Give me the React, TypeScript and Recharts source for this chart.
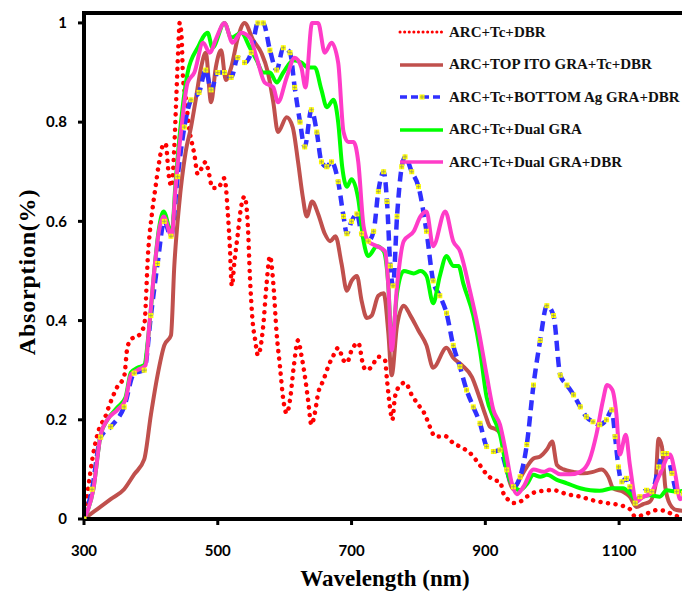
import { LineChart, Line, XAxis, YAxis, Label } from "recharts";

// wavelength (nm) / absorption pairs
const wlRed = [300, 305, 315, 325, 330, 337, 350, 360, 365, 372, 380, 390, 396, 402, 407, 412, 417, 422, 427, 431, 435, 438, 441, 443, 446, 448, 452, 457, 465, 470, 477, 482, 487, 492, 500, 510, 515, 518, 521, 525, 530, 535, 540, 545, 548, 552, 556, 560, 568, 573, 578, 583, 588, 593, 598, 603, 608, 613, 620, 625, 630, 635, 640, 645, 650, 658, 665, 673, 680, 688, 693, 700, 710, 718, 723, 730, 740, 750, 753, 757, 761, 765, 773, 780, 790, 800, 810, 817, 825, 840, 852, 862, 877, 890, 902, 912, 922, 927, 935, 942, 952, 962, 977, 1002, 1022, 1042, 1060, 1082, 1101, 1116, 1124, 1136, 1157, 1170, 1181, 1193, 1200];
const absRed = [0, 0.05, 0.14, 0.19, 0.2, 0.226, 0.267, 0.287, 0.347, 0.364, 0.368, 0.39, 0.54, 0.62, 0.67, 0.717, 0.75, 0.757, 0.69, 0.67, 0.75, 0.85, 0.95, 1.0, 0.97, 0.89, 0.85, 0.79, 0.735, 0.695, 0.71, 0.72, 0.695, 0.667, 0.667, 0.687, 0.617, 0.55, 0.47, 0.52, 0.575, 0.63, 0.65, 0.59, 0.49, 0.4, 0.36, 0.33, 0.39, 0.475, 0.53, 0.475, 0.374, 0.307, 0.24, 0.213, 0.24, 0.3, 0.36, 0.33, 0.29, 0.24, 0.19, 0.213, 0.253, 0.28, 0.307, 0.33, 0.345, 0.32, 0.315, 0.34, 0.355, 0.307, 0.3, 0.307, 0.327, 0.32, 0.28, 0.23, 0.2, 0.247, 0.27, 0.275, 0.25, 0.23, 0.21, 0.186, 0.166, 0.167, 0.153, 0.146, 0.133, 0.112, 0.09, 0.079, 0.075, 0.052, 0.038, 0.032, 0.035, 0.045, 0.055, 0.058, 0.05, 0.045, 0.038, 0.032, 0.028, 0.02, 0.005, 0.008, 0.018, 0.016, 0.008, 0.005, 0.008];

const wlBrown = [300, 320, 340, 360, 375, 390, 400, 410, 420, 430, 435, 442, 452, 460, 467, 475, 482, 490, 497, 505, 512, 520, 530, 540, 553, 565, 575, 583, 590, 603, 612, 620, 627, 633, 641, 650, 660, 668, 676, 685, 693, 700, 708, 715, 723, 730, 740, 748, 755, 760, 768, 778, 788, 800, 812, 822, 842, 852, 865, 880, 890, 900, 907, 917, 925, 932, 942, 952, 962, 972, 982, 992, 1000, 1007, 1017, 1032, 1047, 1061, 1074, 1084, 1091, 1106, 1116, 1126, 1136, 1146, 1154, 1159, 1164, 1169, 1176, 1186, 1200];
const absBrown = [0, 0.02, 0.04, 0.06, 0.09, 0.12, 0.21, 0.29, 0.35, 0.37, 0.51, 0.63, 0.74, 0.79, 0.845, 0.91, 0.94, 0.84, 0.91, 0.945, 0.885, 0.91, 0.97, 1.0, 0.965, 0.94, 0.9, 0.84, 0.78, 0.81, 0.79, 0.72, 0.65, 0.61, 0.64, 0.615, 0.575, 0.56, 0.57, 0.515, 0.46, 0.48, 0.49, 0.44, 0.405, 0.41, 0.45, 0.455, 0.375, 0.29, 0.39, 0.43, 0.41, 0.38, 0.35, 0.305, 0.345, 0.325, 0.31, 0.286, 0.25, 0.21, 0.186, 0.18, 0.166, 0.1, 0.06, 0.082, 0.105, 0.122, 0.126, 0.14, 0.156, 0.109, 0.1, 0.095, 0.092, 0.095, 0.1, 0.085, 0.062, 0.055, 0.045, 0.024, 0.03, 0.035, 0.065, 0.162, 0.146, 0.065, 0.03, 0.018, 0.016];

const wlBlue = [300, 312, 325, 340, 360, 375, 390, 400, 410, 420, 430, 440, 450, 460, 472, 482, 490, 500, 510, 520, 530, 540, 550, 560, 568, 578, 588, 598, 608, 615, 623, 630, 640, 648, 655, 663, 670, 680, 688, 693, 700, 708, 715, 725, 733, 740, 748, 753, 758, 762, 768, 775, 780, 790, 800, 812, 822, 832, 842, 852, 862, 872, 882, 892, 902, 912, 922, 932, 942, 952, 962, 972, 982, 992, 1002, 1012, 1022, 1032, 1042, 1051, 1061, 1071, 1081, 1089, 1094, 1099, 1104, 1111, 1116, 1124, 1131, 1141, 1149, 1159, 1166, 1171, 1179, 1186, 1196, 1200];
const absBlue = [0, 0.06, 0.165, 0.186, 0.226, 0.294, 0.3, 0.41, 0.515, 0.6, 0.57, 0.69, 0.79, 0.845, 0.86, 0.905, 0.865, 0.9, 0.9, 0.89, 0.93, 0.92, 0.94, 1.0, 1.0, 0.945, 0.905, 0.95, 0.94, 0.87, 0.8, 0.75, 0.825, 0.78, 0.72, 0.71, 0.72, 0.68, 0.61, 0.575, 0.6, 0.615, 0.575, 0.56, 0.58, 0.66, 0.7, 0.64, 0.51, 0.47, 0.61, 0.71, 0.73, 0.7, 0.67, 0.58, 0.48, 0.45, 0.415, 0.35, 0.307, 0.26, 0.226, 0.193, 0.146, 0.136, 0.139, 0.099, 0.065, 0.085, 0.15, 0.27, 0.36, 0.43, 0.41, 0.29, 0.27, 0.25, 0.226, 0.206, 0.196, 0.19, 0.2, 0.22, 0.166, 0.105, 0.075, 0.082, 0.065, 0.032, 0.045, 0.058, 0.055, 0.105, 0.132, 0.132, 0.092, 0.055, 0.052, 0.062];

const wlGreen = [300, 314, 325, 335, 350, 362, 370, 380, 390, 397, 405, 412, 419, 431, 437, 445, 455, 470, 485, 492, 510, 520, 535, 548, 558, 568, 578, 588, 598, 613, 625, 635, 645, 655, 663, 673, 680, 686, 693, 700, 710, 718, 725, 738, 748, 755, 760, 768, 778, 793, 803, 812, 822, 832, 842, 852, 860, 867, 882, 892, 902, 912, 922, 932, 942, 952, 962, 972, 982, 992, 1007, 1022, 1042, 1057, 1071, 1091, 1106, 1116, 1126, 1136, 1146, 1161, 1171, 1186, 1200];
const absGreen = [0, 0.06, 0.17, 0.2, 0.225, 0.245, 0.295, 0.305, 0.31, 0.38, 0.5, 0.585, 0.62, 0.575, 0.68, 0.8, 0.9, 0.95, 0.98, 0.95, 1.0, 0.97, 0.98, 0.95, 0.925, 0.9, 0.9, 0.88, 0.9, 0.925, 0.92, 0.91, 0.91, 0.865, 0.83, 0.845, 0.8, 0.71, 0.67, 0.685, 0.645, 0.56, 0.53, 0.55, 0.54, 0.47, 0.35, 0.455, 0.5, 0.495, 0.5, 0.49, 0.435, 0.49, 0.53, 0.51, 0.51, 0.475, 0.41, 0.34, 0.245, 0.205, 0.17, 0.1, 0.065, 0.058, 0.07, 0.089, 0.085, 0.089, 0.079, 0.072, 0.062, 0.058, 0.057, 0.062, 0.062, 0.052, 0.038, 0.045, 0.048, 0.045, 0.058, 0.055, 0.058];

const wlPink = [300, 314, 325, 335, 350, 362, 370, 380, 392, 397, 405, 412, 419, 431, 437, 445, 455, 465, 478, 488, 498, 510, 522, 535, 548, 558, 570, 583, 590, 603, 615, 625, 631, 641, 650, 660, 670, 680, 688, 695, 703, 710, 718, 725, 738, 750, 755, 760, 768, 778, 793, 803, 812, 822, 840, 852, 862, 877, 890, 902, 912, 922, 930, 940, 947, 957, 972, 987, 997, 1012, 1027, 1042, 1056, 1066, 1076, 1082, 1090, 1096, 1101, 1110, 1116, 1126, 1136, 1146, 1161, 1176, 1184, 1191, 1200];
const absPink = [0, 0.06, 0.17, 0.2, 0.22, 0.24, 0.29, 0.3, 0.31, 0.38, 0.5, 0.58, 0.61, 0.57, 0.67, 0.78, 0.88, 0.9, 0.96, 0.94, 0.97, 1.0, 0.96, 0.98, 0.97, 0.93, 0.88, 0.87, 0.84, 0.89, 0.93, 0.91, 0.87, 1.0, 1.0, 0.94, 0.96, 0.92, 0.78, 0.76, 0.76, 0.72, 0.59, 0.56, 0.55, 0.54, 0.47, 0.34, 0.47, 0.56, 0.58, 0.61, 0.62, 0.55, 0.62, 0.56, 0.54, 0.46, 0.38, 0.29, 0.22, 0.19, 0.14, 0.07, 0.05, 0.065, 0.1, 0.095, 0.1, 0.09, 0.09, 0.095, 0.12, 0.17, 0.24, 0.27, 0.26, 0.21, 0.13, 0.17, 0.11, 0.035, 0.045, 0.05, 0.09, 0.13, 0.09, 0.04, 0.05];

const xTicks = [300, 500, 700, 900, 1100];
const yTicks = [0, 0.2, 0.4, 0.6, 0.8, 1];

const zip = (wl: number[], ab: number[]) => wl.map((w, i) => ({ wl: w, v: ab[i] }));

const series = [
  { name: "ARC+Tc+DBR", data: zip(wlRed, absRed), color: "#ff0000", dash: "0.1 7.5", width: 4.5, cap: "round" },
  { name: "ARC+TOP ITO GRA+Tc+DBR", data: zip(wlBrown, absBrown), color: "#c0504d", dash: undefined, width: 4, cap: "round" },
  { name: "ARC+Tc+BOTTOM Ag GRA+DBR", data: zip(wlBlue, absBlue), color: "#3030ff", dash: "10 6", width: 4.5, cap: "butt" },
  { name: "ARC+Tc+Dual GRA", data: zip(wlGreen, absGreen), color: "#00ff00", dash: undefined, width: 4, cap: "round" },
  { name: "ARC+Tc+Dual GRA+DBR", data: zip(wlPink, absPink), color: "#ff3cc8", dash: undefined, width: 4, cap: "round" },
];

const tickFont = { fontFamily: "Lato", fontWeight: 700, fontSize: 15, fill: "#000" };
const titleFont = { fontFamily: "Liberation Serif", fontWeight: 700, fontSize: 23, fill: "#000" };
const frame = { stroke: "#000", strokeWidth: 4 };

function Marker(props: any) {
  const { cx, cy, index } = props;
  if (cx == null || cy == null) return <g key={`m${index}`} />;
  return (
    <g key={`m${index}`}>
      <rect x={cx - 2.5} y={cy - 2.5} width={5} height={5} fill="#ffff00" />
      <path d={`M${cx - 2} ${cy}H${cx + 2}M${cx} ${cy - 2}V${cy + 2}`} stroke="#9a9a60" strokeWidth={0.8} />
    </g>
  );
}

function LegendBox() {
  return (
    <div style={{ position: "absolute", left: 398, top: 16, zIndex: 5, fontFamily: "Liberation Serif", fontWeight: 700, fontSize: 15, color: "#111" }}>
      {series.map((s, i) => (
        <div key={s.name} style={{ display: "flex", alignItems: "center", height: 32.5 }}>
          <svg width={48} height={12} style={{ marginRight: 3 }}>
            <line x1={2} y1={6} x2={45} y2={6} stroke={s.color} strokeWidth={i === 0 ? 3 : 3.5}
              strokeDasharray={i === 0 ? "0.1 4.5" : i === 2 ? "7 4" : undefined} strokeLinecap={i === 0 ? "round" : "butt"} />
            {i === 2 && <Marker cx={24} cy={6} index={0} />}
          </svg>
          <span>{s.name}</span>
        </div>
      ))}
    </div>
  );
}

// top and right edges of the plot box
function FrameEdges() {
  return (
    <svg width={690} height={602} style={{ position: "absolute", left: 0, top: 0, zIndex: 10, pointerEvents: "none" }}>
      <path d="M82 13H686V521" fill="none" stroke="#000" strokeWidth={4} />
    </svg>
  );
}

export default function App() {
  return (
    <div style={{ position: "relative", width: 690, height: 602, margin: -8, background: "#fff" }}>
      <LineChart width={690} height={602} margin={{ top: 13, right: 4, left: 0, bottom: 0 }}>
        <XAxis
          dataKey="wl" type="number" domain={[300, 1200]} ticks={xTicks} allowDataOverflow
          height={83} tick={tickFont} tickSize={6} tickMargin={20}
          axisLine={frame} tickLine={{ stroke: "#000", strokeWidth: 3 }}
        >
          <Label value="Wavelength (nm)" position="insideBottom" offset={16} style={titleFont} />
        </XAxis>
        <YAxis
          type="number" domain={[0, 1.02]} ticks={yTicks} allowDataOverflow width={84}
          tick={tickFont} tickSize={6} tickMargin={11}
          axisLine={frame} tickLine={{ stroke: "#000", strokeWidth: 3 }}
        >
          <Label
            content={() => (
              <text x={27} y={272} transform="rotate(-90 27 272)" textAnchor="middle" dominantBaseline="central"
                style={{ ...titleFont, fontSize: 24, letterSpacing: 0.8 }}>
                Absorption(%)
              </text>
            )}
          />
        </YAxis>
        {series.map((s, i) => (
          <Line
            key={s.name}
            data={s.data}
            dataKey="v"
            name={s.name}
            type="monotone"
            stroke={s.color}
            strokeWidth={s.width}
            strokeDasharray={s.dash}
            strokeLinecap={s.cap as any}
            dot={i === 2 ? (p: any) => <Marker key={`m${p.index}`} {...p} /> : false}
            activeDot={false}
            isAnimationActive={false}
          />
        ))}
      </LineChart>
      <FrameEdges />
      <LegendBox />
    </div>
  );
}
